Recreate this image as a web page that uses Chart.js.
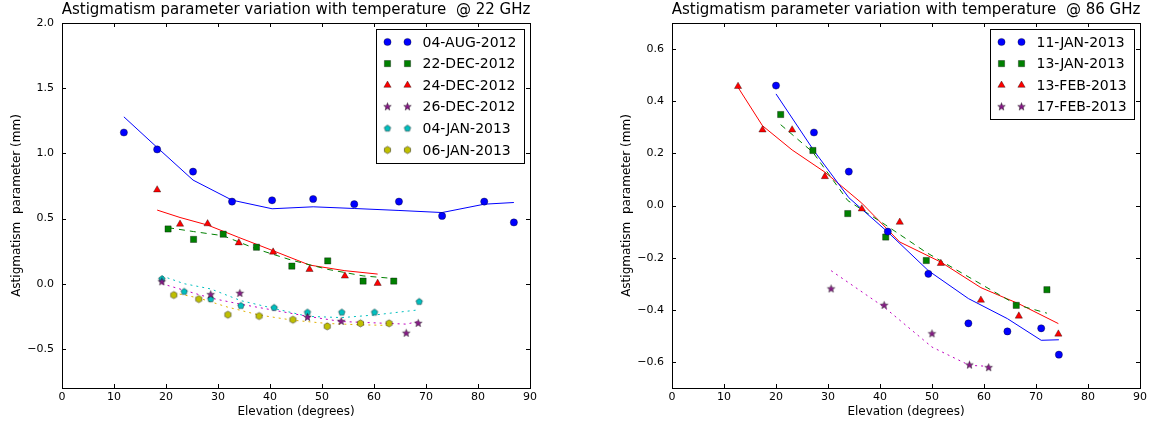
<!DOCTYPE html>
<html>
<head>
<meta charset="utf-8">
<script src="https://cdn.jsdelivr.net/npm/chart.js@4.4.0/dist/chart.umd.min.js"></script>
<style>
html, body { margin: 0; padding: 0; background: #fff; overflow: hidden; width: 1153px; height: 423px; }
canvas { position: absolute; top: 0; }
#c22 { left: 0; }
#c86 { left: 610px; }
</style>
</head>
<body>
<canvas id="c22" width="592" height="423"></canvas>
<canvas id="c86" width="592" height="423"></canvas>
<script>
// ---- 22 GHz panel ----
var aug04X = [11.9, 18.3, 25.2, 32.7, 40.4, 48.3, 56.2, 64.8, 73.1, 81.2, 86.9];
var aug04Y = [1.16, 1.03, 0.86, 0.63, 0.64, 0.65, 0.61, 0.63, 0.52, 0.63, 0.47];
var aug04Fit = [1.28, 1.045, 0.795, 0.641, 0.575, 0.59, 0.577, 0.562, 0.546, 0.61, 0.623];

var dec22X = [20.4, 25.3, 31.0, 37.4, 44.2, 51.1, 57.9, 63.8];
var dec22Y = [0.42, 0.34, 0.38, 0.28, 0.135, 0.175, 0.02, 0.02];
var dec22Fit = [0.43, 0.40, 0.368, 0.266, 0.18, 0.11, 0.06, 0.04];

var dec24X = [18.3, 22.7, 28.0, 34.0, 40.6, 47.6, 54.4, 60.7];
var dec24Y = [0.72, 0.457, 0.46, 0.314, 0.243, 0.11, 0.059, 0.003];
var dec24Fit = [0.565, 0.508, 0.45, 0.355, 0.253, 0.143, 0.1, 0.074];

var dec26X = [19.2, 28.6, 34.2, 47.2, 53.7, 66.2, 68.5];
var dec26Y = [0.015, -0.084, -0.074, -0.258, -0.289, -0.38, -0.304];
var dec26Fit = [0.0, -0.11, -0.156, -0.25, -0.29, -0.31, -0.29];

var jan04X = [19.2, 23.5, 28.6, 34.4, 40.8, 47.2, 53.8, 60.1, 68.7];
var jan04Y = [0.036, -0.061, -0.118, -0.169, -0.184, -0.22, -0.22, -0.22, -0.138];
var jan04Fit = [0.06, 0.0, -0.04, -0.13, -0.19, -0.25, -0.26, -0.24, -0.2];

var jan06X = [21.5, 26.3, 31.9, 37.9, 44.4, 51.0, 57.4, 62.9];
var jan06Y = [-0.087, -0.118, -0.238, -0.248, -0.276, -0.327, -0.304, -0.304];
var jan06Fit = [-0.07, -0.11, -0.18, -0.24, -0.28, -0.305, -0.315, -0.32];

// ---- 86 GHz panel ----
var jan11X = [20.0, 27.3, 34.0, 41.5, 49.3, 57.0, 64.5, 71.0, 74.4];
var jan11Y = [0.46, 0.28, 0.13, -0.10, -0.262, -0.452, -0.483, -0.471, -0.572];
var jan11Fit = [0.428, 0.21, 0.03, -0.102, -0.25, -0.357, -0.434, -0.517, -0.515];

var jan13X = [20.9, 27.1, 33.8, 41.1, 48.9, 66.2, 72.1];
var jan13Y = [0.349, 0.211, -0.031, -0.121, -0.211, -0.383, -0.323];
var jan13Fit = [0.31, 0.204, 0.019, -0.075, -0.18, -0.38, -0.413];

var feb13X = [12.7, 17.4, 23.1, 29.4, 36.5, 43.8, 51.7, 59.4, 66.7, 74.3];
var feb13Y = [0.457, 0.29, 0.29, 0.111, -0.013, -0.064, -0.222, -0.363, -0.424, -0.493];
var feb13Fit = [0.453, 0.306, 0.213, 0.128, 0.009, -0.14, -0.217, -0.315, -0.377, -0.453];

var feb17X = [30.6, 40.8, 50.0, 57.2, 60.9];
var feb17Y = [-0.32, -0.383, -0.492, -0.612, -0.622];
var feb17Fit = [-0.25, -0.39, -0.543, -0.613, -0.617];

// ticks
var xTicks = [0, 10, 20, 30, 40, 50, 60, 70, 80, 90];
var yTicks22 = [-0.5, 0.0, 0.5, 1.0, 1.5, 2.0];
var yTicks86 = [-0.6, -0.4, -0.2, 0.0, 0.2, 0.4, 0.6];

var FONT = '"DejaVu Sans", sans-serif';
Chart.defaults.font.family = FONT;
Chart.defaults.color = '#000';

function pairs(xs, ys) {
    return xs.map(function (x, i) { return { x: x, y: ys[i] }; });
}

// small canvas markers for shapes chart.js lacks (filled star, pentagon, hexagon)
function polyMarker(n, r, inner, fill) {
    var s = Math.ceil(r * 2 + 3);
    var c = document.createElement('canvas');
    c.width = s; c.height = s;
    var g = c.getContext('2d');
    var pts = inner ? n * 2 : n;
    g.beginPath();
    for (var i = 0; i < pts; i++) {
        var rr = (inner && i % 2) ? r * inner : r;
        var a = -Math.PI / 2 + i * Math.PI * 2 / pts;
        var px = s / 2 + rr * Math.cos(a), py = s / 2 + rr * Math.sin(a);
        if (i) g.lineTo(px, py); else g.moveTo(px, py);
    }
    g.closePath();
    g.fillStyle = fill; g.fill();
    g.lineWidth = 0.6; g.strokeStyle = 'rgba(0,0,0,0.7)'; g.stroke();
    return c;
}
var starPurple = polyMarker(5, 4, 0.42, '#8a1a8a');
var pentCyan = polyMarker(5, 3.4, 0, '#00bfbf');
var hexYellow = polyMarker(6, 3.6, 0, '#bfbf00');

function pts(label, xs, ys, style, radius, color) {
    return {
        label: label, inLegend: true, data: pairs(xs, ys), showLine: false,
        pointStyle: style, pointRadius: radius, pointHoverRadius: radius,
        backgroundColor: color, borderColor: 'rgba(0,0,0,0.7)', borderWidth: 0.5, order: 0
    };
}
function fit(xs, ys, color, dash) {
    return {
        label: '', inLegend: false, data: pairs(xs, ys), showLine: true, pointRadius: 0,
        borderColor: color, borderWidth: 1, borderDash: dash, fill: false, order: 1
    };
}

var frameTicks = {
    id: 'frameTicks',
    afterDatasetsDraw: function (chart) {
        var a = chart.chartArea, ctx = chart.ctx;
        var sx = chart.scales.x, sy = chart.scales.y;
        ctx.save();
        ctx.strokeStyle = '#000';
        ctx.lineWidth = 1;
        ctx.beginPath();
        sx.ticks.forEach(function (t) {
            var px = Math.round(sx.getPixelForValue(t.value)) + 0.5;
            ctx.moveTo(px, a.bottom); ctx.lineTo(px, a.bottom - 4);
            ctx.moveTo(px, a.top); ctx.lineTo(px, a.top + 4);
        });
        sy.ticks.forEach(function (t) {
            var py = Math.round(sy.getPixelForValue(t.value)) + 0.5;
            ctx.moveTo(a.left, py); ctx.lineTo(a.left + 4, py);
            ctx.moveTo(a.right, py); ctx.lineTo(a.right - 4, py);
        });
        ctx.stroke();
        ctx.strokeRect(Math.round(a.left) + 0.5, Math.round(a.top) + 0.5,
            Math.round(a.right - a.left), Math.round(a.bottom - a.top));
        ctx.restore();
    }
};

var boxLegend = {
    id: 'boxLegend',
    afterDraw: function (chart) {
        var a = chart.chartArea, ctx = chart.ctx;
        var items = chart.data.datasets.filter(function (d) { return d.inLegend; });
        ctx.save();
        ctx.font = '14px ' + FONT;
        var tw = Math.max.apply(null, items.map(function (d) { return ctx.measureText(d.label).width; }));
        var rowH = 21.6;
        var w = Math.round(46 + tw + 8), h = Math.round(items.length * rowH + 4);
        var x0 = Math.round(a.right - 6 - w) + 0.5, y0 = Math.round(a.top + 6) + 0.5;
        ctx.fillStyle = '#fff';
        ctx.fillRect(x0, y0, w, h);
        ctx.strokeStyle = '#000';
        ctx.lineWidth = 1;
        ctx.strokeRect(x0, y0, w, h);
        items.forEach(function (d, i) {
            var cy = y0 + 12.5 + i * rowH;
            [11, 31].forEach(function (dx) {
                ctx.save();
                ctx.fillStyle = d.backgroundColor;
                ctx.strokeStyle = d.borderColor;
                ctx.lineWidth = d.borderWidth;
                Chart.helpers.drawPoint(ctx, {
                    pointStyle: d.pointStyle, radius: d.pointRadius,
                    borderWidth: d.borderWidth, rotation: 0
                }, x0 + dx, cy);
                ctx.restore();
            });
            ctx.fillStyle = '#000';
            ctx.textBaseline = 'middle';
            ctx.textAlign = 'left';
            ctx.fillText(d.label, x0 + 46, cy + 1);
        });
        ctx.restore();
    }
};

function fmtY(v) {
    return (v < 0 ? '\u2212' : '') + Math.abs(v).toFixed(1);
}

function makeChart(id, title, datasets, yMin, yMax, yTicks) {
    return new Chart(document.getElementById(id), {
        type: 'scatter',
        data: { datasets: datasets },
        options: {
            responsive: false,
            animation: false,
            events: [],
            layout: { padding: 0 },
            plugins: {
                legend: { display: false },
                tooltip: { enabled: false },
                title: {
                    display: true, text: title, color: '#000',
                    font: { size: 15, weight: 'normal', family: FONT },
                    padding: { top: 1, bottom: 4 }
                }
            },
            scales: {
                x: {
                    type: 'linear', min: 0, max: 90,
                    afterBuildTicks: function (s) { s.ticks = xTicks.map(function (v) { return { value: v }; }); },
                    afterFit: function (s) { s.height = 35; },
                    grid: { display: false, drawTicks: false },
                    border: { display: false },
                    ticks: { font: { size: 11 }, color: '#000', padding: 3, maxRotation: 0, autoSkip: false,
                        callback: function (v) { return String(v); } },
                    title: { display: true, text: 'Elevation (degrees)', color: '#000',
                        font: { size: 12 }, padding: { top: 0, bottom: 4 } }
                },
                y: {
                    type: 'linear', min: yMin, max: yMax,
                    afterBuildTicks: function (s) { s.ticks = yTicks.map(function (v) { return { value: v }; }); },
                    afterFit: function (s) { s.width = 62; },
                    grid: { display: false, drawTicks: false },
                    border: { display: false },
                    ticks: { font: { size: 11 }, color: '#000', padding: 8, autoSkip: false, callback: fmtY },
                    title: { display: true, text: 'Astigmatism  parameter (mm)', color: '#000',
                        font: { size: 12 }, padding: { top: 10, bottom: 0 } }
                },
                yr: {
                    type: 'linear', position: 'right', display: true,
                    afterFit: function (s) { s.width = 62; },
                    grid: { display: false, drawTicks: false },
                    border: { display: false },
                    ticks: { display: false }
                }
            }
        },
        plugins: [frameTicks, boxLegend]
    });
}

makeChart('c22', 'Astigmatism parameter variation with temperature  @ 22 GHz', [
    pts('04-AUG-2012', aug04X, aug04Y, 'circle', 3.6, '#0000ff'),
    pts('22-DEC-2012', dec22X, dec22Y, 'rect', 4.4, '#008000'),
    pts('24-DEC-2012', dec24X, dec24Y, 'triangle', 4.2, '#ff0000'),
    pts('26-DEC-2012', dec26X, dec26Y, starPurple, 4, '#8a1a8a'),
    pts('04-JAN-2013', jan04X, jan04Y, pentCyan, 3.4, '#00bfbf'),
    pts('06-JAN-2013', jan06X, jan06Y, hexYellow, 3.6, '#bfbf00'),
    fit(aug04X, aug04Fit, '#0000ff', []),
    fit(dec22X, dec22Fit, '#008000', [6, 5]),
    fit(dec24X, dec24Fit, '#ff0000', []),
    fit(dec26X, dec26Fit, '#bf00bf', [2, 4]),
    fit(jan04X, jan04Fit, '#00bfbf', [2, 4]),
    fit(jan06X, jan06Fit, '#e0b000', [2, 4])
], -0.8, 2.0, yTicks22);

makeChart('c86', 'Astigmatism parameter variation with temperature  @ 86 GHz', [
    pts('11-JAN-2013', jan11X, jan11Y, 'circle', 3.6, '#0000ff'),
    pts('13-JAN-2013', jan13X, jan13Y, 'rect', 4.4, '#008000'),
    pts('13-FEB-2013', feb13X, feb13Y, 'triangle', 4.2, '#ff0000'),
    pts('17-FEB-2013', feb17X, feb17Y, starPurple, 4, '#8a1a8a'),
    fit(jan11X, jan11Fit, '#0000ff', []),
    fit(jan13X, jan13Fit, '#008000', [6, 5]),
    fit(feb13X, feb13Fit, '#ff0000', []),
    fit(feb17X, feb17Fit, '#bf00bf', [2, 4])
], -0.7, 0.7, yTicks86);
</script>
</body>
</html>
